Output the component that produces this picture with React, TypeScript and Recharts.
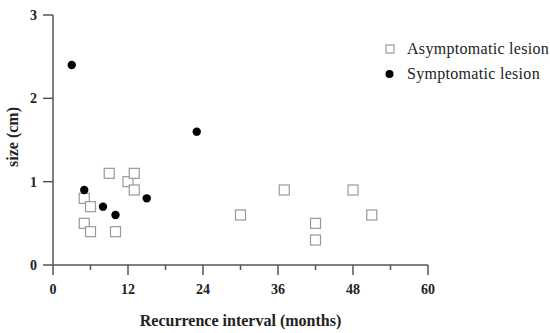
import { ScatterChart, Scatter, XAxis, YAxis, Label } from "recharts"

const asymMonths = [5, 6, 5, 6, 9, 10, 12, 13, 13, 30, 37, 42, 42, 48, 51]
const asymSize = [0.8, 0.7, 0.5, 0.4, 1.1, 0.4, 1.0, 1.1, 0.9, 0.6, 0.9, 0.5, 0.3, 0.9, 0.6]
const symMonths = [3, 5, 8, 10, 15, 23]
const symSize = [2.4, 0.9, 0.7, 0.6, 0.8, 1.6]
const xTicks = [0, 6, 12, 18, 24, 30, 36, 42, 48, 54, 60]
const yTicks = [0, 1, 2, 3]

const asymData = asymMonths.map((m, i) => ({ months: m, size: asymSize[i] }))
const symData = symMonths.map((m, i) => ({ months: m, size: symSize[i] }))

const FONT = "'Liberation Serif', 'Times New Roman', serif"
const AXIS = "#555"

const Square = (props: any) => {
  const { cx, cy } = props
  return <rect x={cx - 5} y={cy - 5} width={10} height={10} fill="#fff" stroke="#999" strokeWidth={1.2} />
}

const Dot = (props: any) => {
  const { cx, cy } = props
  return <circle cx={cx} cy={cy} r={4.2} fill="#000" />
}

const XTick = (props: any) => {
  const { x, y, payload } = props
  const major = payload.value % 12 === 0
  return (
    <g>
      <line x1={x} x2={x} y1={y} y2={y + (major ? 10 : 5)} stroke={AXIS} strokeWidth={1.5} />
      {major && (
        <text x={x} y={y + 26} textAnchor="middle" dominantBaseline="middle"
          fontFamily={FONT} fontWeight="bold" fontSize={14} fill="#222">
          {payload.value}
        </text>
      )}
    </g>
  )
}

const LegendBox = () => (
  <div style={{ position: "absolute", left: 384, top: 36, width: 162, whiteSpace: "nowrap", fontFamily: FONT, fontSize: 16, letterSpacing: 0.3, color: "#222" }}>
    <div style={{ display: "flex", alignItems: "center", height: 25 }}>
      <svg width={23} height={12} style={{ flexShrink: 0 }}>
        <rect x={2} y={2} width={8} height={8} fill="#fff" stroke="#999" strokeWidth={1.2} />
      </svg>
      <span>Asymptomatic lesion</span>
    </div>
    <div style={{ display: "flex", alignItems: "center", height: 25 }}>
      <svg width={23} height={12} style={{ flexShrink: 0 }}>
        <circle cx={5.5} cy={6} r={4} fill="#000" />
      </svg>
      <span>Symptomatic lesion</span>
    </div>
  </div>
)

export default function App() {
  return (
    <div style={{ position: "absolute", left: 0, top: 0, width: 550, height: 333 }}>
      <ScatterChart width={550} height={333} margin={{ top: 15, right: 122, bottom: 0, left: 0 }}>
        <XAxis
          type="number"
          dataKey="months"
          domain={[0, 60]}
          ticks={xTicks}
          interval={0}
          height={68}
          tickSize={0}
          tickMargin={0}
          tickLine={false}
          tick={<XTick />}
          stroke={AXIS}
          strokeWidth={1.5}
        >
          <Label
            content={(p: any) => {
              const vb = p.viewBox
              return (
                <text x={vb.x + vb.width / 2} y={vb.y + 57} textAnchor="middle" dominantBaseline="middle"
                  fontFamily={FONT} fontWeight="bold" fontSize={16} fill="#222">
                  Recurrence interval (months)
                </text>
              )
            }}
          />
        </XAxis>
        <YAxis
          type="number"
          dataKey="size"
          domain={[0, 3]}
          ticks={yTicks}
          interval={0}
          width={53}
          tickSize={10}
          tickMargin={6}
          stroke={AXIS}
          strokeWidth={1.5}
          tick={{ fontFamily: FONT, fontWeight: "bold", fontSize: 14, fill: "#222" }}
        >
          <Label
            content={(p: any) => {
              const vb = p.viewBox
              const cy = vb.y + vb.height / 2 - 3
              return (
                <text x={14} y={cy} transform={`rotate(-90 14 ${cy})`} textAnchor="middle" dominantBaseline="middle"
                  fontFamily={FONT} fontWeight="bold" fontSize={16} fill="#222">
                  size (cm)
                </text>
              )
            }}
          />
        </YAxis>
        <Scatter name="Asymptomatic lesion" data={asymData} shape={<Square />} isAnimationActive={false} />
        <Scatter name="Symptomatic lesion" data={symData} shape={<Dot />} isAnimationActive={false} />
      </ScatterChart>
      <LegendBox />
    </div>
  )
}
